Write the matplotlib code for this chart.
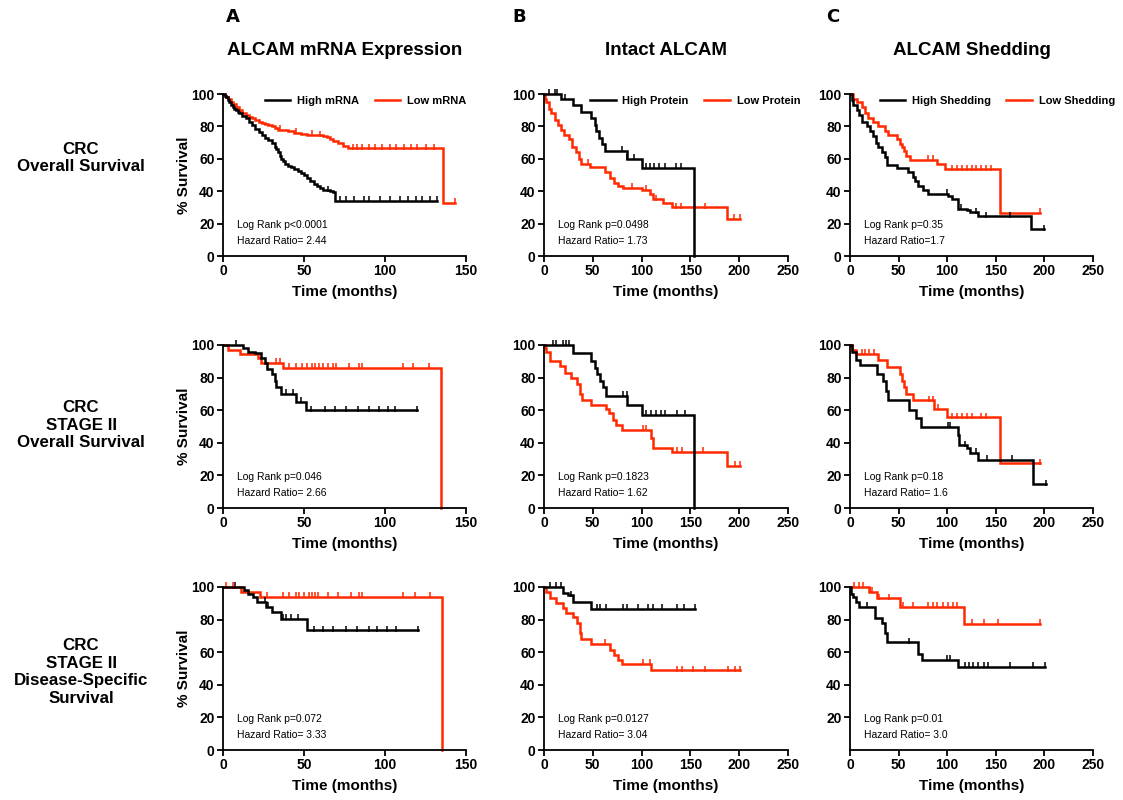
"""Kaplan-Meier survival curves for ALCAM expression / shedding in CRC."""
import numpy as np
import matplotlib
matplotlib.use('Agg')
import matplotlib.pyplot as plt

plt.rcParams['font.family'] = ['Liberation Sans', 'DejaVu Sans']

BLACK = '#000000'
RED = '#FF2A00'

col_titles = ["ALCAM mRNA Expression", "Intact ALCAM", "ALCAM Shedding"]
col_letters = ["A", "B", "C"]
row_labels = ["CRC\nOverall Survival",
              "CRC\nSTAGE II\nOverall Survival",
              "CRC\nSTAGE II\nDisease-Specific\nSurvival"]
legend_hi = ["High mRNA", "High Protein", "High Shedding"]
legend_lo = ["Low mRNA", "Low Protein", "Low Shedding"]
x_max = [150, 250, 250]
x_ticks = [[0, 50, 100, 150], [0, 50, 100, 150, 200, 250], [0, 50, 100, 150, 200, 250]]

# log rank p / hazard ratio text, row by row
p_text = [["p<0.0001", "p=0.0498", "p=0.35"],
          ["p=0.046", "p=0.1823", "p=0.18"],
          ["p=0.072", "p=0.0127", "p=0.01"]]
hr_text = [["= 2.44", "= 1.73", "=1.7"],
           ["= 2.66", "= 1.62", "= 1.6"],
           ["= 3.33", "= 3.04", "= 3.0"]]

# ---------------------------------------------------------------- row 1
a1_hi_t = [0, 1, 2, 3, 4, 5, 6, 7, 8, 9, 10, 12, 14, 16, 18, 20, 22, 24, 26, 28, 30, 32, 33, 34, 35,
           36, 37, 38, 40, 42, 44, 46, 48, 50, 52, 54, 56, 58, 60, 62, 64, 66, 68, 69, 132]
a1_hi_s = [100, 99, 98, 96.5, 95, 93.5, 92, 91, 90, 89, 88, 86.5, 85, 83, 81, 78.5, 76.5, 74.5, 73, 71.5,
           69.5, 67.5, 66, 64, 62, 60, 58.5, 56.5, 55.5, 55, 54, 52.5, 51, 50, 48, 46, 44.5, 43.5, 42, 41,
           40.5, 40, 39.5, 34, 34]
a1_hi_c = [65, 72, 76, 81, 87, 90, 97, 103, 109, 114, 119, 123, 128, 132]
a1_lo_t = [0, 1, 2, 3, 5, 6, 8, 10, 12, 14, 16, 18, 20, 22, 24, 26, 28, 30, 32, 34, 36, 40, 44, 48, 52,
           58, 62, 64, 66, 68, 71, 74, 77, 136, 143]
a1_lo_s = [100, 99, 98, 97, 95, 94, 92, 90, 88.5, 87, 86, 85, 84, 83, 82, 81.5, 81, 80, 79, 78, 77.5, 77,
           76, 75.5, 75, 74.5, 74, 73.5, 72, 71, 69.5, 68, 66.5, 33, 33]
a1_lo_c = [35, 45, 55, 60, 80, 83, 86, 90, 94, 98, 103, 107, 112, 116, 120, 125, 130, 143]

b1_hi_t = [0, 17, 30, 38, 48.6, 52, 53.5, 56.5, 59, 63, 84.6, 100, 154]
b1_hi_s = [100, 97, 93, 89, 85, 81, 77, 73, 69, 65, 60, 54.5, 0]
b1_hi_c = [5, 11, 13, 22, 80, 85, 92, 105, 109, 113, 118, 124, 135, 140]
b1_lo_t = [0, 1, 2.4, 5, 7.5, 11, 14.4, 17.8, 21, 25.7, 29, 33, 36, 38, 47, 62, 67.5, 71.6, 76, 81,
           100, 108.5, 112, 122, 131, 187, 201]
b1_lo_s = [100, 97, 95, 91, 88, 84, 81, 78, 75, 72, 67, 64, 60, 57, 55, 52, 48, 45, 43, 42, 41, 38, 35,
           33, 30, 23, 23]
b1_lo_c = [45, 90, 105, 115, 135, 140, 165, 195, 201]

c1_hi_t = [0, 1.7, 3.4, 6.8, 9.6, 12, 17, 20.5, 24, 26.7, 29, 32.5, 36, 38, 48, 60, 65, 67, 70, 75,
           80.5, 101, 104.5, 111, 120, 123, 132, 186.6, 200]
c1_hi_s = [100, 96, 93, 90, 87, 83, 80, 77, 74, 70, 67, 64, 61, 56, 54.5, 52, 49, 46, 43, 41, 38.5, 37,
           35, 29, 28.5, 27, 24.5, 16.5, 16.5]
c1_hi_c = [100, 114, 130, 140, 165, 200]
c1_lo_t = [0, 3.4, 6.8, 12, 15.4, 19, 24, 29, 36, 39.4, 48, 51, 53, 55.5, 58, 61.6, 89, 97.6, 154, 195]
c1_lo_s = [100, 97, 95, 92, 88, 85, 83, 80, 77, 75, 72, 69, 67, 65, 62, 59.5, 56.5, 53.5, 26.5, 26.5]
c1_lo_c = [80, 85, 105, 110, 115, 120, 125, 130, 135, 140, 145, 195]

# ---------------------------------------------------------------- row 2
a2_hi_t = [0, 12.4, 15.5, 19.6, 23.7, 25.8, 27, 30, 32, 33, 36, 45, 51.5, 119.5]
a2_hi_s = [100, 98, 96, 95, 92, 89, 85, 82, 78, 74, 70, 65, 60, 60]
a2_hi_c = [8, 39, 43, 48, 54.5, 63, 69, 76, 83.5, 90, 96, 102, 106, 119.5]
a2_lo_t = [0, 3, 10.3, 21.6, 23.7, 37, 134.3]
a2_lo_s = [100, 97, 94.5, 92, 89, 86, 0]
a2_lo_c = [33, 35, 41, 45, 49, 52, 55, 57, 59, 62, 65, 68, 70, 78, 84, 86, 111, 117, 127]

b2_hi_t = [0, 29.8, 48.6, 52, 54.5, 57, 60.6, 64, 85, 100, 154]
b2_hi_s = [100, 95, 90, 86, 82, 78, 74, 69, 63, 57, 0]
b2_hi_c = [9, 12.7, 19.5, 23, 26, 81, 84.6, 105, 110, 115, 120, 124, 136, 144]
b2_lo_t = [0, 1, 2.4, 5.8, 16, 22, 28, 34, 36.6, 39.4, 48.6, 64, 66.8, 71, 74, 79.5, 110, 112, 131,
           187, 201]
b2_lo_s = [100, 98, 96, 90, 87, 83, 80, 76, 70, 66, 63, 61, 58, 54, 51, 48, 43, 37, 34.5, 26, 26]
b2_lo_c = [101.7, 105, 136, 141, 163, 196, 201]

c2_hi_t = [0, 1.7, 5.7, 10.7, 27.5, 34, 36.6, 38.6, 61, 68, 73, 111, 112, 120, 123, 132, 188, 202]
c2_hi_s = [100, 96, 91, 88, 82, 78, 72, 66, 60, 55, 50, 45, 38.5, 37, 34, 29.5, 14.5, 14.5]
c2_hi_c = [101, 103, 118, 130, 141, 167, 202]
c2_lo_t = [0, 2.4, 5.7, 29, 37.6, 51, 53, 55.4, 58, 64.5, 86, 100, 154.6, 195.6]
c2_lo_s = [100, 97, 94.5, 91, 86.5, 82, 78, 74, 70, 66, 61, 55.7, 27.5, 27.5]
c2_lo_c = [12, 15, 20, 25, 81, 85, 91, 105, 110, 115, 120, 125, 135, 140, 195.6]

# ---------------------------------------------------------------- row 3
a3_hi_t = [0, 12.8, 15.5, 18.5, 21, 26.8, 30, 36, 52, 120.5]
a3_hi_s = [100, 98, 96, 94, 91, 88, 84.5, 80.6, 73.5, 73.5]
a3_hi_c = [7.2, 26, 28, 37, 39, 42, 46, 56, 62, 68, 76, 82.5, 90, 95, 101, 107, 120.5]
a3_lo_t = [0, 11.3, 23, 135]
a3_lo_s = [100, 97, 94, 0]
a3_lo_c = [2, 6, 27, 37, 41, 45, 47, 50, 53, 55, 57, 58.5, 65, 71, 79, 84, 86, 111, 118.5, 128]

b3_hi_t = [0, 19.5, 24.7, 30, 48.6, 155]
b3_hi_s = [100, 96.5, 95, 91, 86.5, 86.5]
b3_hi_c = [6, 12.7, 17.8, 28, 54, 57, 64, 81, 84.6, 96.5, 107, 112, 120.5, 136, 143, 155]
b3_lo_t = [0, 2.4, 5.8, 12.7, 19.5, 23, 30, 34, 36.6, 38, 48.6, 68, 71.6, 76, 79.5, 110, 201]
b3_lo_s = [100, 97, 93, 90, 87, 84, 81.5, 78, 72, 68, 65, 61.5, 58, 55, 53, 49, 49]
b3_lo_c = [62, 101.7, 108.6, 136, 141, 153, 165, 189, 196, 201]

c3_hi_t = [0, 1, 2.7, 6, 9.4, 26, 33, 35.6, 38, 70, 74, 110.7, 201]
c3_hi_s = [100, 96, 94, 91, 88, 81, 78, 72, 66, 59, 55.5, 51, 51]
c3_hi_c = [18, 61, 100, 103, 118, 122, 127, 132, 138, 142, 165, 188, 201]
c3_lo_t = [0, 19.5, 28, 51, 117, 195.6]
c3_lo_s = [100, 97, 93, 88, 77.5, 77.5]
c3_lo_c = [4, 9, 13, 21, 23, 29.5, 40, 55, 65, 80, 85, 90, 96, 101, 106, 110, 125, 138, 152, 195.6]

curves = [
    [(a1_hi_t, a1_hi_s, a1_hi_c, a1_lo_t, a1_lo_s, a1_lo_c),
     (b1_hi_t, b1_hi_s, b1_hi_c, b1_lo_t, b1_lo_s, b1_lo_c),
     (c1_hi_t, c1_hi_s, c1_hi_c, c1_lo_t, c1_lo_s, c1_lo_c)],
    [(a2_hi_t, a2_hi_s, a2_hi_c, a2_lo_t, a2_lo_s, a2_lo_c),
     (b2_hi_t, b2_hi_s, b2_hi_c, b2_lo_t, b2_lo_s, b2_lo_c),
     (c2_hi_t, c2_hi_s, c2_hi_c, c2_lo_t, c2_lo_s, c2_lo_c)],
    [(a3_hi_t, a3_hi_s, a3_hi_c, a3_lo_t, a3_lo_s, a3_lo_c),
     (b3_hi_t, b3_hi_s, b3_hi_c, b3_lo_t, b3_lo_s, b3_lo_c),
     (c3_hi_t, c3_hi_s, c3_hi_c, c3_lo_t, c3_lo_s, c3_lo_c)],
]


def draw_km(ax, t, s, cens, color, label=None):
    t = np.asarray(t, float)
    s = np.asarray(s, float)
    ax.step(t, s, where='post', color=color, lw=1.8, clip_on=False, label=label,
            solid_joinstyle='miter')
    c = np.asarray(cens, float)
    idx = np.searchsorted(t, c, side='right') - 1
    ax.plot(c, s[idx] + 1.0, linestyle='none', marker='|', ms=4, mew=1.1,
            color=color, clip_on=False)


# figure geometry in pixels (1123 x 800)
W, H = 1123, 800
col_left = [223, 544, 850]
col_w = [243, 244, 243]
row_top = [94, 345, 587]
row_h = [162, 163, 163]

fig = plt.figure(figsize=(W / 100, H / 100), dpi=100)

for r in range(3):
    for c in range(3):
        ax = fig.add_axes([col_left[c] / W, 1 - (row_top[r] + row_h[r]) / H,
                           col_w[c] / W, row_h[r] / H])
        hi_t, hi_s, hi_c, lo_t, lo_s, lo_c = curves[r][c]
        draw_km(ax, lo_t, lo_s, lo_c, RED, legend_lo[c])
        draw_km(ax, hi_t, hi_s, hi_c, BLACK, legend_hi[c])

        ax.set_xlim(0, x_max[c])
        ax.set_ylim(0, 100)
        ax.set_xticks(x_ticks[c])
        if r == 2 and c == 2:
            ax.set_yticks([20, 40, 60, 80, 100])
        else:
            ax.set_yticks([0, 20, 40, 60, 80, 100])
        for side in ['top', 'right']:
            ax.spines[side].set_visible(False)
        for side in ['left', 'bottom']:
            ax.spines[side].set_linewidth(1.3)
        ax.tick_params(direction='out', length=4, width=1.3, pad=2, labelsize=10)
        for lab in ax.get_xticklabels() + ax.get_yticklabels():
            lab.set_fontweight('bold')
        ax.set_xlabel("Time (months)", fontsize=11, fontweight='bold', labelpad=5)
        if c == 0:
            ax.set_ylabel("% Survival", fontsize=11, fontweight='bold', labelpad=0)

        ax.text(0.058, 0.19, "Log Rank " + p_text[r][c], transform=ax.transAxes,
                fontsize=7.5, va='center', ha='left')
        ax.text(0.058, 0.09, "Hazard Ratio" + hr_text[r][c], transform=ax.transAxes,
                fontsize=7.5, va='center', ha='left')

        if r == 0:
            anchor_x = [1.0, 1.05, 1.09][c]
            handles, labels = ax.get_legend_handles_labels()
            ax.legend(handles[::-1], labels[::-1], loc='center right',
                      bbox_to_anchor=(anchor_x, 0.955), ncol=2, frameon=False,
                      prop={'size': 8, 'weight': 'bold'}, handlelength=2.3,
                      handletextpad=0.6, columnspacing=1.4, borderpad=0, borderaxespad=0)
            ax.set_title(col_titles[c], fontsize=13.5, fontweight='bold', pad=28)

# panel letters
for c in range(3):
    fig.text([233, 519, 833][c] / W, 1 - 17 / H, col_letters[c], fontsize=13,
             fontweight='bold', family='DejaVu Sans', ha='center', va='center')

# row labels
for r in range(3):
    fig.text(81 / W, 1 - [158, 425, 672][r] / H, row_labels[r], fontsize=12.2,
             fontweight='bold', ha='center', va='center', linespacing=1.22)

plt.savefig("out.png", dpi=100)
plt.close()
